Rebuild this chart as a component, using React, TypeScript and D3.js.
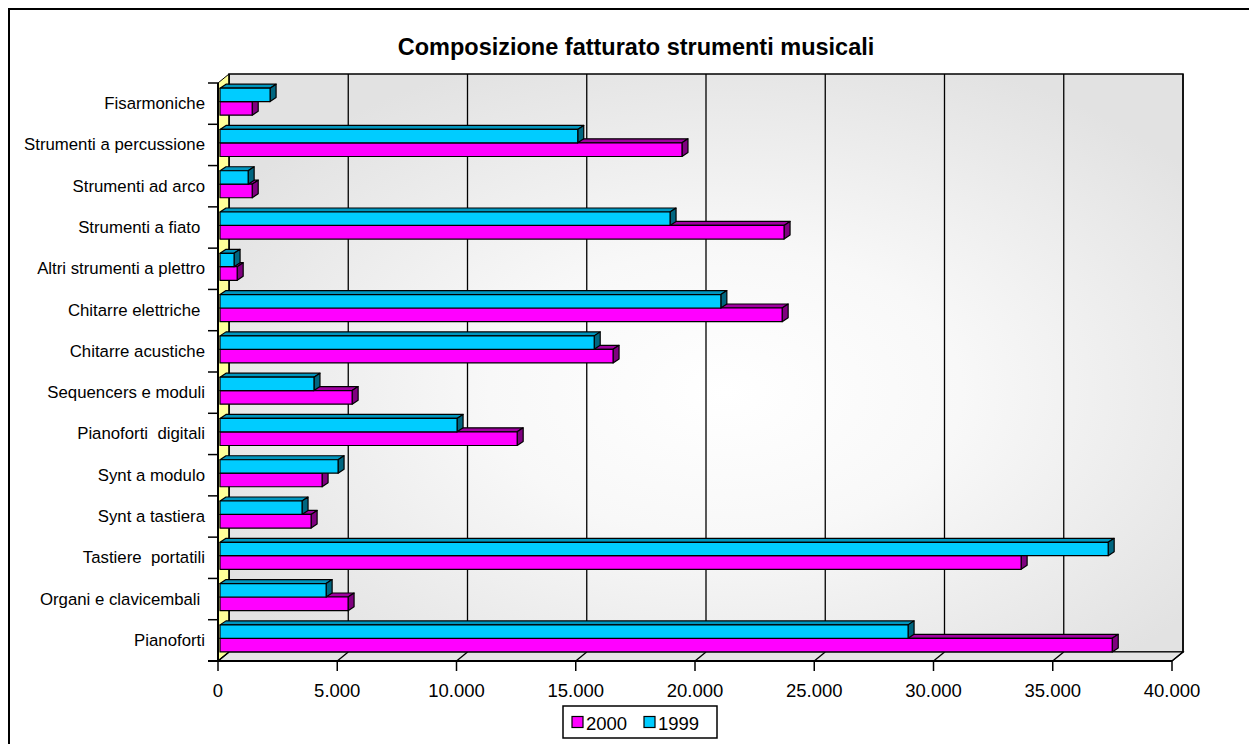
import React from 'react';
import * as d3 from 'd3';

const categories = [
  'Fisarmoniche',
  'Strumenti a percussione',
  'Strumenti ad arco',
  'Strumenti a fiato ',
  'Altri strumenti a plettro',
  'Chitarre elettriche ',
  'Chitarre acustiche',
  'Sequencers e moduli',
  'Pianoforti  digitali',
  'Synt a modulo',
  'Synt a tastiera',
  'Tastiere  portatili',
  'Organi e clavicembali ',
  'Pianoforti',
];

const values1999 = [2100, 15000, 1180, 18870, 590, 21000, 15690, 3940, 9940, 4950, 3440, 37240, 4450, 28850];
const values2000 = [1350, 19370, 1350, 23650, 720, 23570, 16480, 5540, 12460, 4280, 3820, 33590, 5370, 37410];

const xTicks = [0, 5000, 10000, 15000, 20000, 25000, 30000, 35000, 40000];
const tickLabels = ['0', '5.000', '10.000', '15.000', '20.000', '25.000', '30.000', '35.000', '40.000'];

const series = [
  { name: '2000', values: values2000, front: '#FF00FF', top: '#A000A0', side: '#800080' },
  { name: '1999', values: values1999, front: '#00CCFF', top: '#0096BE', side: '#006680' },
];

const W = 1249;
const H = 744;
const font = 'Arial, "Liberation Sans", sans-serif';

export default function App() {
  const left = 218;
  const right = 1172;
  const top = 83;
  const bottom = 661;
  // depth offset of the back wall
  const dx = 11;
  const dy = -9;
  // bar depth
  const bx = 6;
  const by = -4;

  const x = d3.scaleLinear().domain([0, 40000]).range([left, right]);
  const y = d3.scaleBand().domain(categories).range([top, bottom]).padding(0);
  const bw = y.bandwidth();

  // position of each series inside band (fraction of band)
  const slot = d3.scaleOrdinal<string, [number, number]>()
    .domain(['1999', '2000'])
    .range([[0.125, 0.45], [0.45, 0.78]]);

  const barShift = 2;

  const bars: JSX.Element[] = [];
  categories.forEach((c, i) => {
    const t = y(c) || 0;
    // draw 2000 first so 1999 front covers its top face
    series.forEach((s) => {
      const [f0, f1] = slot(s.name);
      const y1 = t + f0 * bw;
      const y2 = t + f1 * bw;
      const x0 = left + barShift;
      const xv = x(s.values[i]) + barShift;
      bars.push(
        <g key={c + s.name} stroke="#000" strokeWidth={1.2} strokeLinejoin="round">
          <polygon
            points={`${x0},${y1} ${x0 + bx},${y1 + by} ${xv + bx},${y1 + by} ${xv},${y1}`}
            fill={s.top}
          />
          <polygon
            points={`${xv},${y1} ${xv + bx},${y1 + by} ${xv + bx},${y2 + by} ${xv},${y2}`}
            fill={s.side}
          />
          <rect x={x0} y={y1} width={xv - x0} height={y2 - y1} fill={s.front} />
        </g>
      );
    });
  });

  return (
    <svg
      width={W}
      height={H}
      style={{ position: 'absolute', left: 0, top: 0, background: '#fff' }}
      fontFamily={font}
    >
      <defs>
        <radialGradient id="wall" cx="52%" cy="55%" r="62%">
          <stop offset="0%" stopColor="#ffffff" />
          <stop offset="40%" stopColor="#f8f8f8" />
          <stop offset="100%" stopColor="#e2e2e2" />
        </radialGradient>
      </defs>
      <rect x={0} y={0} width={W} height={H} fill="#fff" />
      <rect x={9} y={9} width={W + 10} height={H + 10} fill="none" stroke="#000" strokeWidth={2} />

      <text x={636} y={55} textAnchor="middle" fontSize={23.5} fontWeight="bold">
        Composizione fatturato strumenti musicali
      </text>

      {/* back wall */}
      <rect
        x={left + dx}
        y={top + dy}
        width={right - left}
        height={bottom - top}
        fill="url(#wall)"
        stroke="#000"
        strokeWidth={1.5}
      />
      {/* side wall */}
      <polygon
        points={`${left},${top} ${left + dx},${top + dy} ${left + dx},${bottom + dy} ${left},${bottom}`}
        fill="#FFFF99"
        stroke="#000"
        strokeWidth={1}
      />
      {/* floor */}
      <polygon
        points={`${left},${bottom} ${left + dx},${bottom + dy} ${right + dx},${bottom + dy} ${right},${bottom}`}
        fill="#e4e4e4"
        stroke="#000"
        strokeWidth={1.2}
      />
      {/* gridlines on back wall and floor */}
      {xTicks.map((v) => (
        <g key={v} stroke="#000" strokeWidth={1.3}>
          <line x1={x(v) + dx} x2={x(v) + dx} y1={top + dy} y2={bottom + dy} />
          <line x1={x(v)} x2={x(v) + dx} y1={bottom} y2={bottom + dy} />
        </g>
      ))}

      {bars}

      {/* front axes */}
      <line x1={left} x2={left} y1={top} y2={bottom} stroke="#000" strokeWidth={2} />
      <line x1={left - 10} x2={right} y1={bottom} y2={bottom} stroke="#000" strokeWidth={2} />
      {categories.map((c) => (
        <line
          key={c}
          x1={left - 10}
          x2={left}
          y1={y(c) || 0}
          y2={y(c) || 0}
          stroke="#000"
          strokeWidth={1.5}
        />
      ))}
      {xTicks.map((v) => (
        <line key={v} x1={x(v)} x2={x(v)} y1={bottom} y2={bottom + 10} stroke="#000" strokeWidth={1.5} />
      ))}

      {categories.map((c) => (
        <text
          key={c}
          x={205}
          y={(y(c) || 0) + bw / 2}
          textAnchor="end"
          dominantBaseline="central"
          fontSize={16.8}
          style={{ whiteSpace: 'pre' }}
        >
          {c}
        </text>
      ))}

      {xTicks.map((v, i) => (
        <text key={v} x={x(v)} y={697} textAnchor="middle" fontSize={18.5}>
          {tickLabels[i]}
        </text>
      ))}

      {/* legend */}
      <rect x={563} y={706} width={154} height={32} fill="#fff" stroke="#000" strokeWidth={1.5} />
      {series.map((s, i) => (
        <g key={s.name} transform={`translate(${572 + i * 72},722)`}>
          <rect x={0} y={-5.5} width={11} height={11} fill={s.front} stroke="#000" strokeWidth={1.2} />
          <text x={14} y={1} dominantBaseline="central" fontSize={18.5}>
            {s.name}
          </text>
        </g>
      ))}
    </svg>
  );
}
